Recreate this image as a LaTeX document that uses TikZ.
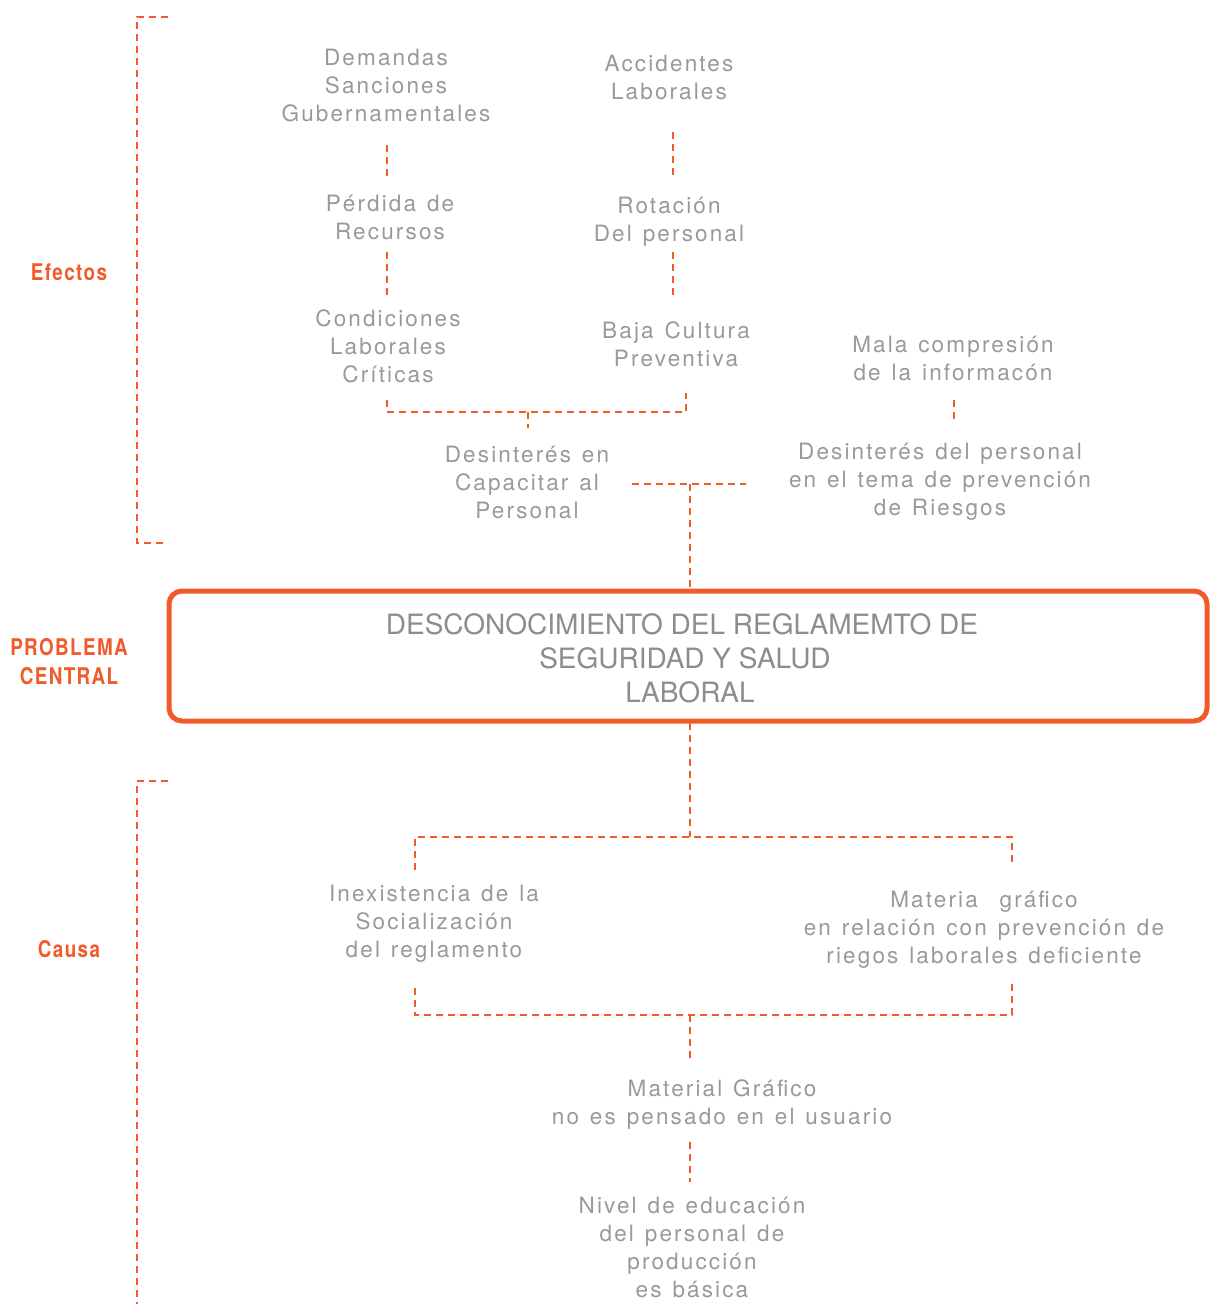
\documentclass[tikz,border=0pt]{standalone}
\usepackage{fontspec}
\setmainfont{TeX Gyre Heros}
\newfontfamily\gfont[LetterSpace=9.5,WordSpace=1.3]{TeX Gyre Heros}
\newfontfamily\lbfont[LetterSpace=6,FakeStretch=0.82]{TeX Gyre Heros}
\definecolor{org}{RGB}{241,90,41}
\definecolor{gtx}{RGB}{152,152,158}
\definecolor{btx}{RGB}{140,140,145}
\begin{document}
\begin{tikzpicture}[x=1pt,y=-1pt,
  txt/.style={font=\gfont\fontsize{22.5}{28}\selectfont, text=gtx, align=center, inner sep=0pt},
  lab/.style={font=\lbfont\bfseries\fontsize{23}{29}\selectfont, text=org, align=center, inner sep=0pt},
  dl/.style={draw=org, line width=2.2pt, dash pattern=on 7pt off 5pt},
  mainbox/.style={draw=org, line width=5pt, rounded corners=13pt}]
\useasboundingbox (0,0) rectangle (1210,1304);

% side labels
\node[lab] (lef) at (69,272) {Efectos};
\node[lab] (lpc) at (69,662) {PROBLEMA\\CENTRAL};
\node[lab] (lca) at (69,949) {Causa};

% side brackets
\coordinate (b1a) at (168,17); \coordinate (b1b) at (137,17);
\coordinate (b1c) at (137,543); \coordinate (b1d) at (168,543);
\draw[dl] (b1a) -- (b1b) -- (b1c) -- (b1d);
\coordinate (b2a) at (168,781); \coordinate (b2b) at (137,781);
\coordinate (b2c) at (137,1304);
\draw[dl] (b2a) -- (b2b) -- (b2c);

% effects
\node[txt] (dem)  at (386,85)  {Demandas\\Sanciones\\Gubernamentales};
\node[txt] (acc)  at (669,77)  {Accidentes\\Laborales};
\node[txt] (perd) at (390,217) {Pérdida de\\Recursos};
\node[txt] (rot)  at (669,222) {Rotación\\Del personal};
\node[txt] (cond) at (388,346) {Condiciones\\Laborales\\Críticas};
\node[txt] (baja) at (676,344) {Baja Cultura\\Preventiva};
\node[txt] (mala) at (953,358) {Mala compresión\\de la informacón};
\node[txt] (desc) at (527,482) {Desinterés en\\Capacitar al\\Personal};
\node[txt] (desp) at (940,482) {Desinterés del personal\\en el tema de prevención\\de Riesgos};

% central problem
\draw[mainbox] (169,591) rectangle (1207,721);
\node[font=\fontsize{28}{34}\selectfont, text=btx, align=center, inner sep=0pt] (main) at (684,658)
  {DESCONOCIMIENTO DEL REGLAMEMTO DE\hspace*{4pt}\\\hspace*{2pt}SEGURIDAD Y SALUD\\\hspace*{12pt}LABORAL};

% causes
\node[txt] (inex) at (434,924)  {Inexistencia de la\\Socialización\\del reglamento};
\node[txt] (mat)  at (984,930)  {Materia\ \ gráfico\\en relación con prevención de\\riegos laborales deficiente};
\node[txt] (matg) at (722,1105) {Material Gráfico\\no es pensado en el usuario};
\node[txt] (niv)  at (692,1247) {Nivel de educación\\del personal de\\producción\\es básica};

% connector coordinates
\coordinate (c1a) at (387,145); \coordinate (c1b) at (387,178);
\coordinate (c2a) at (673,132); \coordinate (c2b) at (673,178);
\coordinate (c3a) at (387,252); \coordinate (c3b) at (387,297);
\coordinate (c4a) at (673,252); \coordinate (c4b) at (673,297);
\coordinate (k1) at (387,400); \coordinate (k2) at (387,412);
\coordinate (k3) at (686,412); \coordinate (k4) at (686,393);
\coordinate (k5) at (528,412); \coordinate (k6) at (528,428);
\coordinate (m1) at (954,400); \coordinate (m2) at (954,420);
\coordinate (h1) at (632,484); \coordinate (h2) at (746,484);
\coordinate (h3) at (690,484); \coordinate (h4) at (690,589);
\coordinate (p1) at (690,723); \coordinate (p2) at (690,837);
\coordinate (t1) at (415,870); \coordinate (t2) at (415,837);
\coordinate (t3) at (1012,837); \coordinate (t4) at (1012,865);
\coordinate (u1) at (415,988); \coordinate (u2) at (415,1015);
\coordinate (u3) at (1012,1015); \coordinate (u4) at (1012,983);
\coordinate (u5) at (690,1015); \coordinate (u6) at (690,1062);
\coordinate (n1) at (690,1142); \coordinate (n2) at (690,1182);

\draw[dl] (c1a) -- (c1b);
\draw[dl] (c2a) -- (c2b);
\draw[dl] (c3a) -- (c3b);
\draw[dl] (c4a) -- (c4b);
\draw[dl] (k1) -- (k2) -- (k3) -- (k4);
\draw[dl] (k5) -- (k6);
\draw[dl] (m1) -- (m2);
\draw[dl] (h1) -- (h2);
\draw[dl] (h3) -- (h4);
\draw[dl] (p1) -- (p2);
\draw[dl] (t1) -- (t2) -- (t3) -- (t4);
\draw[dl] (u1) -- (u2) -- (u3) -- (u4);
\draw[dl] (u5) -- (u6);
\draw[dl] (n1) -- (n2);
\end{tikzpicture}
\end{document}
